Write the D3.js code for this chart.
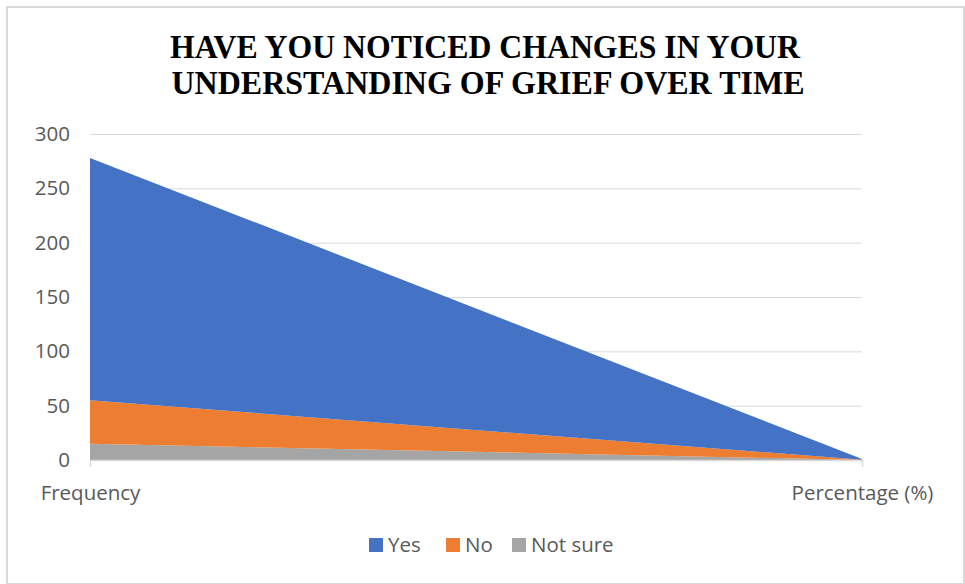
<!DOCTYPE html>
<html>
<head>
<meta charset="utf-8">
<script src="https://cdn.jsdelivr.net/npm/d3@7"></script>
<style>
 body{margin:0;background:#fff;}
 svg text{font-family:"Open Sans","Noto Sans",sans-serif;}
</style>
</head>
<body>
<div id="chart"></div>
<script>
// Data
var categories = ["Frequency", "Percentage (%)"];
var seriesNames = ["Not sure", "No", "Yes"];   // bottom to top
var notSure = [15, 0.05];
var no = [40, 0.14];
var yes = [223, 0.80];
var yTicks = [0, 50, 100, 150, 200, 250, 300];
var colors = {"Yes": "#4472c4", "No": "#ed7d31", "Not sure": "#a5a5a5"};
var legendOrder = ["Yes", "No", "Not sure"];

var W = 965, H = 584;
var margin = {top: 134, left: 90, right: 103, bottom: 124};
var width = W - margin.left - margin.right;
var height = H - margin.top - margin.bottom;

var svg = d3.select("#chart").append("svg")
 .attr("width", W).attr("height", H);

svg.append("rect")			//outer border
 .attr("x", 7).attr("y", 7)
 .attr("width", W - 8).attr("height", H - 7)
 .attr("fill", "#fff").attr("stroke", "#d9d9d9").attr("stroke-width", 2);

// title
var title = svg.append("text")
 .attr("text-anchor", "middle")
 .style("font-family", "'Liberation Serif','Times New Roman',serif")
 .style("font-weight", "bold")
 .style("font-size", "34px")
 .attr("fill", "#000");
title.append("tspan").attr("x", 485).attr("y", 58)
 .attr("textLength", 630).attr("lengthAdjust", "spacingAndGlyphs")
 .text("HAVE YOU NOTICED CHANGES IN YOUR");
title.append("tspan").attr("x", 488).attr("y", 94)
 .attr("textLength", 633).attr("lengthAdjust", "spacingAndGlyphs")
 .text("UNDERSTANDING OF GRIEF OVER TIME");

var g = svg.append("g")
 .attr("transform", "translate(" + margin.left + "," + margin.top + ")");

var xScale = d3.scalePoint().domain(categories).range([0, width]);
var yScale = d3.scaleLinear().domain([0, 300]).range([height, 0]);

// gridlines
g.append("g")
 .call(d3.axisLeft(yScale).tickValues(yTicks).tickSize(-width).tickFormat(""))
 .call(function(s){ s.select(".domain").remove(); })
 .selectAll("line").attr("stroke", "#d9d9d9").attr("stroke-width", 1);

// stacked areas
var table = categories.map(function(c, i){
 return {cat: c, "Not sure": notSure[i], "No": no[i], "Yes": yes[i]};
});
var stack = d3.stack().keys(seriesNames)(table);
var area = d3.area()
 .x(function(d){ return xScale(d.data.cat); })
 .y0(function(d){ return yScale(d[0]); })
 .y1(function(d){ return yScale(d[1]); });
g.selectAll(".layer")
 .data(stack)
 .enter().append("path")
 .attr("class", "layer")
 .attr("d", area)
 .attr("fill", function(d){ return colors[d.key]; });

// y axis labels
var yAxis = g.append("g")
 .call(d3.axisLeft(yScale).tickValues(yTicks).tickSize(0).tickPadding(20));
yAxis.select(".domain").remove();
yAxis.selectAll("text")
 .attr("fill", "#595959")
 .style("font-size", "20.5px");

// x axis
var xAxis = g.append("g")
 .attr("transform", "translate(0," + height + ")")
 .call(d3.axisBottom(xScale).tickSize(7).tickSizeOuter(0).tickPadding(18));
xAxis.select(".domain").attr("stroke", "#d9d9d9").attr("stroke-width", 1.5);
xAxis.selectAll("line").attr("stroke", "#d9d9d9").attr("stroke-width", 1.5);
xAxis.selectAll("text")
 .attr("fill", "#595959")
 .style("font-size", "20.5px");

// legend
var legX = [369, 446, 512];
var leg = svg.append("g");
legendOrder.forEach(function(name, i){
 leg.append("rect")
  .attr("x", legX[i]).attr("y", 538)
  .attr("width", 14).attr("height", 14)
  .attr("fill", colors[name]);
 leg.append("text")
  .attr("x", legX[i] + 19).attr("y", 552)
  .attr("fill", "#595959")
  .style("font-size", "20.5px")
  .text(name);
});
</script>
</body>
</html>
